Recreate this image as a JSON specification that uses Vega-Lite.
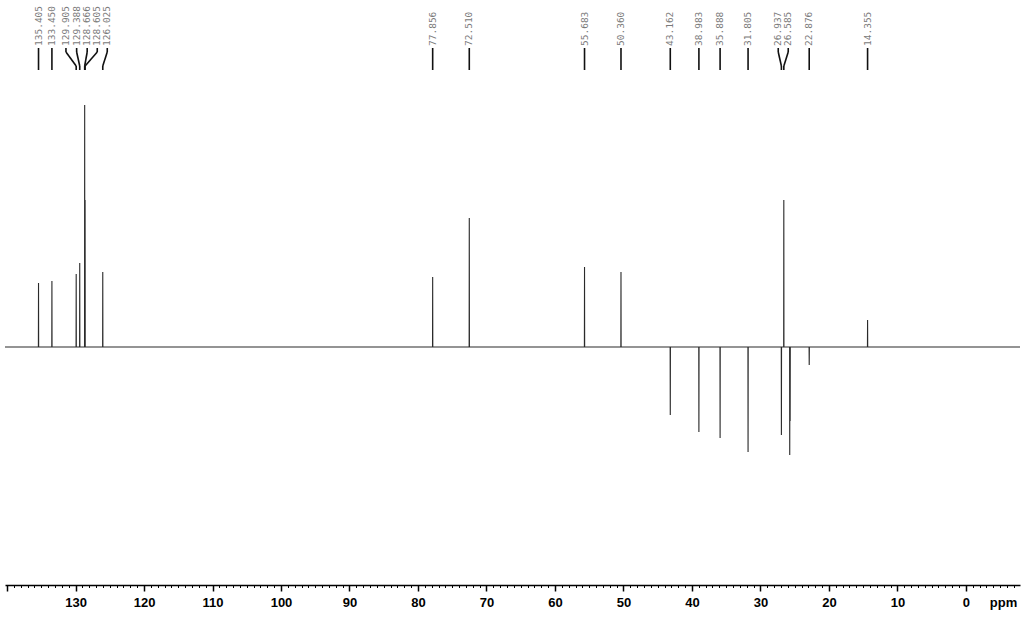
{
  "$schema": "https://vega.github.io/schema/vega-lite/v6.json",
  "width": 1015,
  "height": 585,
  "autosize": {"type": "none"},
  "padding": {"left": 5, "top": 0, "right": 4, "bottom": 32},
  "background": "white",
  "config": {"view": {"stroke": null}},
  "datasets": {
    "spectrum": [
      {"ppm": 140.3, "i": 0},
      {"ppm": 135.425, "i": 0}, {"ppm": 135.405, "i": 64}, {"ppm": 135.385, "i": 0},
      {"ppm": 133.47, "i": 0}, {"ppm": 133.45, "i": 66}, {"ppm": 133.43, "i": 0},
      {"ppm": 129.925, "i": 0}, {"ppm": 129.905, "i": 73}, {"ppm": 129.885, "i": 0},
      {"ppm": 129.408, "i": 0}, {"ppm": 129.388, "i": 84}, {"ppm": 129.368, "i": 0},
      {"ppm": 128.686, "i": 0}, {"ppm": 128.666, "i": 242}, {"ppm": 128.646, "i": 0},
      {"ppm": 128.625, "i": 0}, {"ppm": 128.605, "i": 147}, {"ppm": 128.585, "i": 0},
      {"ppm": 126.045, "i": 0}, {"ppm": 126.025, "i": 75}, {"ppm": 126.005, "i": 0},
      {"ppm": 77.876, "i": 0}, {"ppm": 77.856, "i": 70}, {"ppm": 77.836, "i": 0},
      {"ppm": 72.53, "i": 0}, {"ppm": 72.51, "i": 129}, {"ppm": 72.49, "i": 0},
      {"ppm": 55.703, "i": 0}, {"ppm": 55.683, "i": 80}, {"ppm": 55.663, "i": 0},
      {"ppm": 50.38, "i": 0}, {"ppm": 50.36, "i": 75}, {"ppm": 50.34, "i": 0},
      {"ppm": 43.182, "i": 0}, {"ppm": 43.162, "i": -68}, {"ppm": 43.142, "i": 0},
      {"ppm": 39.003, "i": 0}, {"ppm": 38.983, "i": -85}, {"ppm": 38.963, "i": 0},
      {"ppm": 35.908, "i": 0}, {"ppm": 35.888, "i": -91}, {"ppm": 35.868, "i": 0},
      {"ppm": 31.825, "i": 0}, {"ppm": 31.805, "i": -105}, {"ppm": 31.785, "i": 0},
      {"ppm": 26.957, "i": 0}, {"ppm": 26.937, "i": -88}, {"ppm": 26.917, "i": 0},
      {"ppm": 26.605, "i": 0}, {"ppm": 26.585, "i": 147}, {"ppm": 26.565, "i": 0},
      {"ppm": 25.74, "i": 0}, {"ppm": 25.72, "i": -108}, {"ppm": 25.70, "i": 0},
      {"ppm": 25.68, "i": 0}, {"ppm": 25.66, "i": -74}, {"ppm": 25.64, "i": 0},
      {"ppm": 22.896, "i": 0}, {"ppm": 22.876, "i": -18}, {"ppm": 22.856, "i": 0},
      {"ppm": 14.375, "i": 0}, {"ppm": 14.355, "i": 27}, {"ppm": 14.335, "i": 0},
      {"ppm": -7.9, "i": 0}
    ],
    "labels": [
      {"label": "135.405", "lx": 135.405, "px": 135.405},
      {"label": "133.450", "lx": 133.45, "px": 133.45},
      {"label": "129.905", "lx": 131.4, "px": 129.905},
      {"label": "129.388", "lx": 129.84, "px": 129.388},
      {"label": "128.666", "lx": 128.3, "px": 128.666},
      {"label": "128.605", "lx": 126.83, "px": 128.605},
      {"label": "126.025", "lx": 125.37, "px": 126.025},
      {"label": "77.856", "lx": 77.856, "px": 77.856},
      {"label": "72.510", "lx": 72.51, "px": 72.51},
      {"label": "55.683", "lx": 55.683, "px": 55.683},
      {"label": "50.360", "lx": 50.36, "px": 50.36},
      {"label": "43.162", "lx": 43.162, "px": 43.162},
      {"label": "38.983", "lx": 38.983, "px": 38.983},
      {"label": "35.888", "lx": 35.888, "px": 35.888},
      {"label": "31.805", "lx": 31.805, "px": 31.805},
      {"label": "26.937", "lx": 27.4, "px": 26.937},
      {"label": "26.585", "lx": 25.94, "px": 26.585},
      {"label": "22.876", "lx": 22.876, "px": 22.876},
      {"label": "14.355", "lx": 14.355, "px": 14.355}
    ]
  },
  "layer": [
    {
      "data": {"name": "spectrum"},
      "mark": {"type": "line", "color": "#2a2a2a", "strokeWidth": 1.1, "interpolate": "linear"},
      "encoding": {
        "x": {
          "field": "ppm", "type": "quantitative",
          "scale": {"domain": [-7.9, 140.3], "reverse": true, "nice": false, "zero": false},
          "axis": {
            "orient": "bottom",
            "tickCount": 500,
            "format": "d",
            "values": [-7,-6,-5,-4,-3,-2,-1,0,1,2,3,4,5,6,7,8,9,10,11,12,13,14,15,16,17,18,19,20,21,22,23,24,25,26,27,28,29,30,31,32,33,34,35,36,37,38,39,40,41,42,43,44,45,46,47,48,49,50,51,52,53,54,55,56,57,58,59,60,61,62,63,64,65,66,67,68,69,70,71,72,73,74,75,76,77,78,79,80,81,82,83,84,85,86,87,88,89,90,91,92,93,94,95,96,97,98,99,100,101,102,103,104,105,106,107,108,109,110,111,112,113,114,115,116,117,118,119,120,121,122,123,124,125,126,127,128,129,130,131,132,133,134,135,136,137,138,139,140],
            "labelExpr": "datum.value % 10 === 0 && datum.value < 135 ? datum.label : ''",
            "labelOverlap": false,
            "labelBound": false,
            "labelFlush": false,
            "grid": false,
            "domainColor": "#000000",
            "domainWidth": 1.5,
            "tickColor": "#000000",
            "tickSize": {"condition": {"test": "datum.value % 10 === 0", "value": 6}, "value": 2.5},
            "tickWidth": {"condition": {"test": "datum.value % 10 === 0", "value": 1.5}, "value": 1},
            "labelFont": "Liberation Sans",
            "labelFontWeight": "bold",
            "labelFontSize": 13,
            "labelColor": "#000000",
            "labelPadding": 5,
            "title": "ppm",
            "titleFont": "Liberation Sans",
            "titleFontWeight": "bold",
            "titleFontSize": 13,
            "titleColor": "#000000",
            "titleX": 998,
            "titleY": 11,
            "titleAlign": "center",
            "titleBaseline": "top",
            "titleAngle": 0
          }
        },
        "y": {
          "field": "i", "type": "quantitative",
          "scale": {"domain": [-238, 347], "nice": false, "zero": false},
          "axis": null
        }
      }
    },
    {
      "data": {"name": "labels"},
      "mark": {"type": "text", "angle": 270, "align": "left", "baseline": "middle", "font": "DejaVu Sans Mono", "fontSize": 9.5, "color": "#7a7a7a"},
      "encoding": {
        "x": {"field": "lx", "type": "quantitative"},
        "y": {"datum": 301},
        "text": {"field": "label"}
      }
    },
    {
      "data": {"name": "labels"},
      "mark": {"type": "rule", "color": "#111111", "strokeWidth": 1.6},
      "encoding": {
        "x": {"field": "lx", "type": "quantitative"},
        "y": {"datum": 299},
        "y2": {"datum": 295}
      }
    },
    {
      "data": {"name": "labels"},
      "mark": {"type": "rule", "color": "#111111", "strokeWidth": 1.6},
      "encoding": {
        "x": {"field": "lx", "type": "quantitative"},
        "x2": {"field": "px"},
        "y": {"datum": 295},
        "y2": {"datum": 281}
      }
    },
    {
      "data": {"name": "labels"},
      "mark": {"type": "rule", "color": "#111111", "strokeWidth": 1.6},
      "encoding": {
        "x": {"field": "px", "type": "quantitative"},
        "y": {"datum": 281},
        "y2": {"datum": 277}
      }
    }
  ]
}
